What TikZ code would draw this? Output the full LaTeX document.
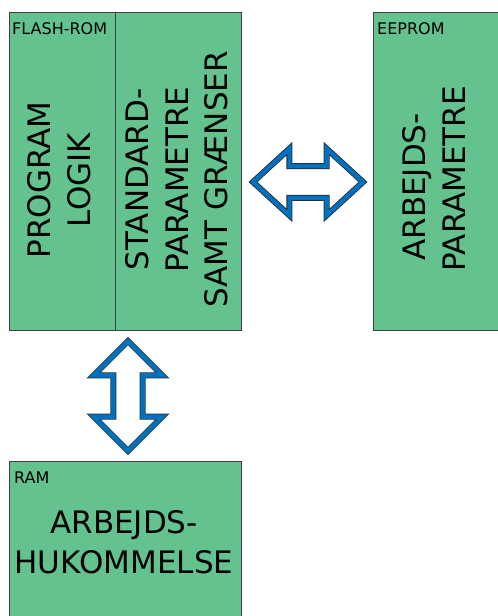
\documentclass[tikz,border=0pt]{standalone}
\usepackage{fontspec}
\setmainfont{DejaVu Sans}
\usetikzlibrary{shapes.arrows}
\definecolor{boxgreen}{RGB}{100,194,142}
\definecolor{arrowblue}{RGB}{0,112,192}
\definecolor{edgegray}{RGB}{64,64,64}
\begin{document}
\begin{tikzpicture}[x=1pt,y=-1pt,
    memory/.style={rectangle,draw=edgegray,line width=0.9pt,fill=boxgreen,anchor=north west,inner sep=0pt},
    tag/.style={anchor=north west,inner sep=0pt,font=\fontsize{16}{19}\selectfont},
    content/.style={align=center,inner sep=0pt,font=\fontsize{31}{39.5}\selectfont},
    bus/.style={double arrow,draw=black!85,line width=0.8pt,double=arrowblue,double distance=4.4pt,fill=white,inner xsep=0pt,minimum height=110pt}
    ]

    \useasboundingbox (0,0) rectangle (498,616);
    \clip (0,0) rectangle (498,616);

    \node (flashrom) at (9,12) [memory,minimum width=232pt,minimum height=318pt] {};
    \node (eeprom) at (373,12) [memory,minimum width=140pt,minimum height=318pt] {};
    \node (ram) at (9,461) [memory,minimum width=232pt,minimum height=180pt] {};
    \draw [edgegray,line width=0.9pt] ([xshift=106pt]flashrom.north west) -- ([xshift=106pt]flashrom.south west);

    \node (flashlbl) at (12,22) [tag] {FLASH-ROM};
    \node (eepromlbl) at (377,22) [tag] {EEPROM};
    \node (ramlbl) at (14,472) [tag] {RAM};

    \node (program) at (59,180) [content,rotate=90] {PROGRAM\\LOGIK};
    \node (standard) at (177,179.5) [content,rotate=90] {STANDARD-\\PARAMETRE\\SAMT GRÆNSER};
    \node (workpar) at (434,179) [content,rotate=90] {ARBEJDS-\hspace*{16pt}\\PARAMETRE};
    \node (workmem) at (124,542) [content] {ARBEJDS-\\HUKOMMELSE};

    \node (romeeprom) at (308,182) [bus,inner ysep=15.5pt,double arrow head extend=17.5pt,double arrow tip angle=85] {};
    \node (romram) at (128,396) [bus,rotate=90,inner ysep=14.25pt,double arrow head extend=19.75pt,double arrow tip angle=90] {};
  \end{tikzpicture}
\end{document}
